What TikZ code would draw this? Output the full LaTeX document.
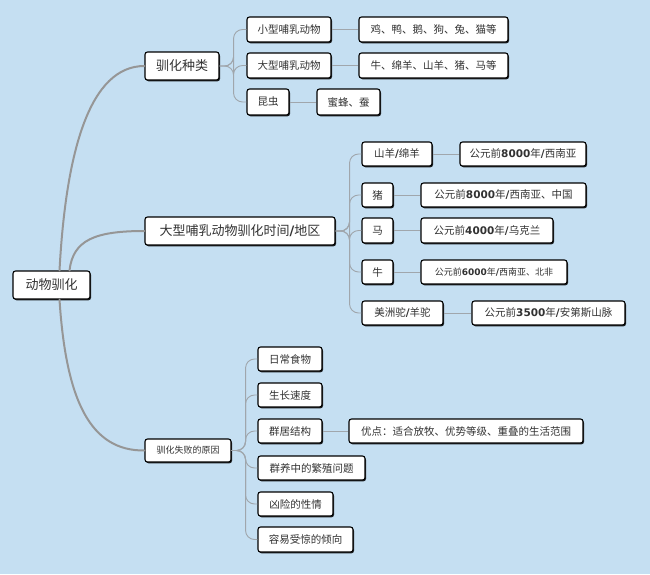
\documentclass[tikz,border=0pt]{standalone}
\usepackage{fontspec}
\setmainfont{Noto Sans CJK SC}
\newfontfamily\dvb{DejaVu Sans Bold}
\usetikzlibrary{calc,shadows}
\definecolor{bg}{RGB}{197,223,242}
\definecolor{ln}{RGB}{160,166,172}
\definecolor{rl}{RGB}{150,150,150}
\definecolor{tx}{RGB}{50,50,50}
\newcommand\bn[1]{{\dvb #1}}
\tikzset{
  box/.style={draw=black, line width=1.1pt, fill=white, rounded corners=2.5pt, inner sep=0pt, align=center, text=tx,
    drop shadow={shadow xshift=1pt, shadow yshift=-1.3pt, fill=black, opacity=0.85}},
  lone/.style={font=\fontsize{13}{15}\selectfont},
  ltwo/.style={font=\fontsize{10.5}{12}\selectfont},
  lsm/.style={font=\fontsize{9}{11}\selectfont},
  conn/.style={draw=ln, line width=0.9pt, rounded corners=9pt},
  rootc/.style={draw=rl, line width=2pt, line cap=round},
}
\newcommand\bx[7]{\node[box, #6, minimum width={#3-#2-1}, minimum height={#5-#4-1}] (#1) at ({(#2+#3)/2-0.5},{(#4+#5)/2-0.5}) {#7};}
\begin{document}
\begin{tikzpicture}[x=1pt,y=-1pt]
\fill[bg] (0,0) rectangle (650,574);
\useasboundingbox (0,0) rectangle (650,574);
% nodes
\bx{root}{13}{91}{271}{300}{lone}{动物驯化}
\bx{a}{145}{220}{52}{81}{lone}{驯化种类}
\bx{a1}{247}{332}{17}{43}{ltwo}{小型哺乳动物}
\bx{a1x}{359}{509}{17}{43}{ltwo}{鸡、鸭、鹅、狗、兔、猫等}
\bx{a2}{247}{332}{53}{79}{ltwo}{大型哺乳动物}
\bx{a2x}{359}{509}{53}{79}{ltwo}{牛、绵羊、山羊、猪、马等}
\bx{a3}{247}{290}{89}{116}{ltwo}{昆虫}
\bx{a3x}{317}{381}{89}{116}{ltwo}{蜜蜂、蚕}
\bx{b}{145}{336}{217}{246}{lone}{大型哺乳动物驯化时间\bn{/}地区}
\bx{b1}{362}{433}{142}{167}{ltwo}{山羊\bn{/}绵羊}
\bx{b1x}{460}{587}{142}{167}{ltwo}{公元前\bn{8000}年\bn{/}西南亚}
\bx{b2}{362}{394}{183}{208}{ltwo}{猪}
\bx{b2x}{421}{587}{183}{208}{ltwo}{公元前\bn{8000}年\bn{/}西南亚、中国}
\bx{b3}{362}{394}{218}{244}{ltwo}{马}
\bx{b3x}{421}{554}{218}{244}{ltwo}{公元前\bn{4000}年\bn{/}乌克兰}
\bx{b4}{362}{394}{260}{285}{ltwo}{牛}
\bx{b4x}{421}{568}{260}{285}{lsm}{公元前\bn{6000}年\bn{/}西南亚、北非}
\bx{b5}{362}{444}{301}{326}{ltwo}{美洲驼\bn{/}羊驼}
\bx{b5x}{472}{626}{301}{326}{ltwo}{公元前\bn{3500}年\bn{/}安第斯山脉}
\bx{c}{145}{232}{439}{463}{lsm}{驯化失败的原因}
\bx{c1}{258}{323}{347}{372}{ltwo}{日常食物}
\bx{c2}{258}{323}{383}{408}{ltwo}{生长速度}
\bx{c3}{258}{323}{419}{444}{ltwo}{群居结构}
\bx{c3x}{349}{584}{419}{444}{ltwo}{优点：适合放牧、优势等级、重叠的生活范围}
\bx{c4}{258}{366}{456}{481}{ltwo}{群养中的繁殖问题}
\bx{c5}{258}{334}{492}{517}{ltwo}{凶险的性情}
\bx{c6}{258}{354}{527}{553}{ltwo}{容易受惊的倾向}
% root connectors
\draw[rootc] ($(root.north)+(8,0)$) .. controls (66,150) and (90,66) .. (a.west);
\draw[rootc] ($(root.north)+(18,0)$) .. controls (73,240) and (95,231) .. (b.west);
\draw[rootc] ($(root.south)+(8,0)$) .. controls (66,400) and (90,451) .. (c.west);
% level 1 -> level 2
\foreach \p/\c in {a/a1,a/a2,a/a3,b/b1,b/b2,b/b3,b/b4,b/b5,c/c1,c/c2,c/c3,c/c4,c/c5,c/c6}
  \draw[conn] (\p.east) -- ++(14,0) |- (\c.west);
% level 2 -> level 3
\foreach \p in {a1,a2,a3,b1,b2,b3,b4,b5,c3}
  \draw[conn] (\p.east) -- (\p x.west);
\end{tikzpicture}
\end{document}
